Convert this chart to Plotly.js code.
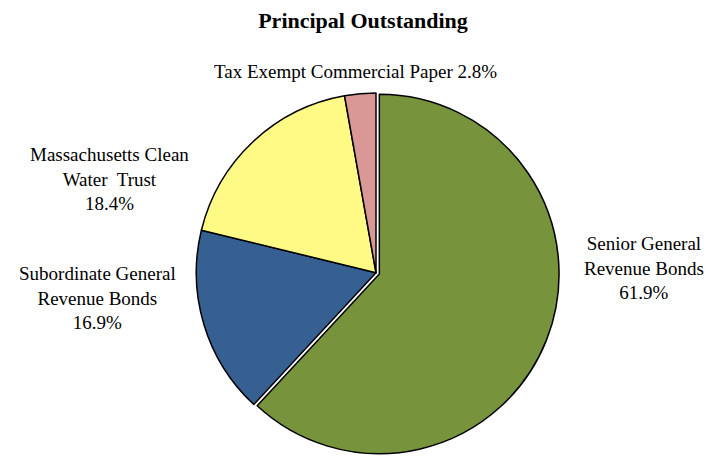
<!DOCTYPE html>
<html>
<head>
<meta charset="utf-8">
<script src="https://cdn.plot.ly/plotly-3.0.1.min.js"></script>
<style>html,body{margin:0;padding:0;background:#fff;}#chart{width:709px;height:456px;}</style>
</head>
<body>
<div id="chart"></div>
<script>
const categories = ["Senior General Revenue Bonds", "Subordinate General Revenue Bonds", "Massachusetts Clean Water Trust", "Tax Exempt Commercial Paper"];
const labelLines = ["Senior General<br>Revenue Bonds", "Subordinate General<br>Revenue Bonds", "Massachusetts Clean<br>Water  Trust", "Tax Exempt Commercial Paper"];
const values = [61.9, 16.9, 18.4, 2.8];
const colors = ["#77933C", "#376092", "#FFFA85", "#D99795"];

const labelPos = [
  {x: 644, y: 268},
  {x: 97, y: 298},
  {x: 109, y: 179},
  {x: 355, y: 71}
];

const FONT = "Liberation Serif";
const W = 709, H = 456;
const annotations = categories.map((c, i) => {
  const sep = i === 3 ? " " : "<br>";
  return {
    text: labelLines[i] + sep + values[i].toFixed(1) + "%",
    x: labelPos[i].x / W, y: 1 - labelPos[i].y / H,
    xref: "paper", yref: "paper", xanchor: "center", yanchor: "middle",
    showarrow: false, align: "center",
    font: {family: FONT, size: 19, color: "#000"}
  };
});

const trace = {
  type: "pie",
  labels: categories,
  values: values,
  sort: false,
  direction: "clockwise",
  rotation: 0,
  pull: [0.02, 0, 0, 0],
  marker: {colors: colors, line: {color: "#000", width: 1.5}},
  textinfo: "none",
  hoverinfo: "label+percent",
  showlegend: false,
  domain: {x: [192.4 / W, 559.6 / W], y: [0, 1 - 89.4 / H]}
};

const layout = {
  width: W, height: H,
  margin: {l: 0, r: 0, t: 0, b: 0},
  paper_bgcolor: "#fff",
  plot_bgcolor: "#fff",
  showlegend: false,
  font: {family: FONT},
  title: {
    text: "<b>Principal Outstanding</b>",
    x: 363 / W, xanchor: "center",
    y: 1 - 20 / H, yanchor: "middle",
    font: {family: FONT, size: 22, color: "#000"}
  },
  annotations: annotations
};

Plotly.newPlot("chart", [trace], layout, {displayModeBar: false, staticPlot: true});
</script>
</body>
</html>
